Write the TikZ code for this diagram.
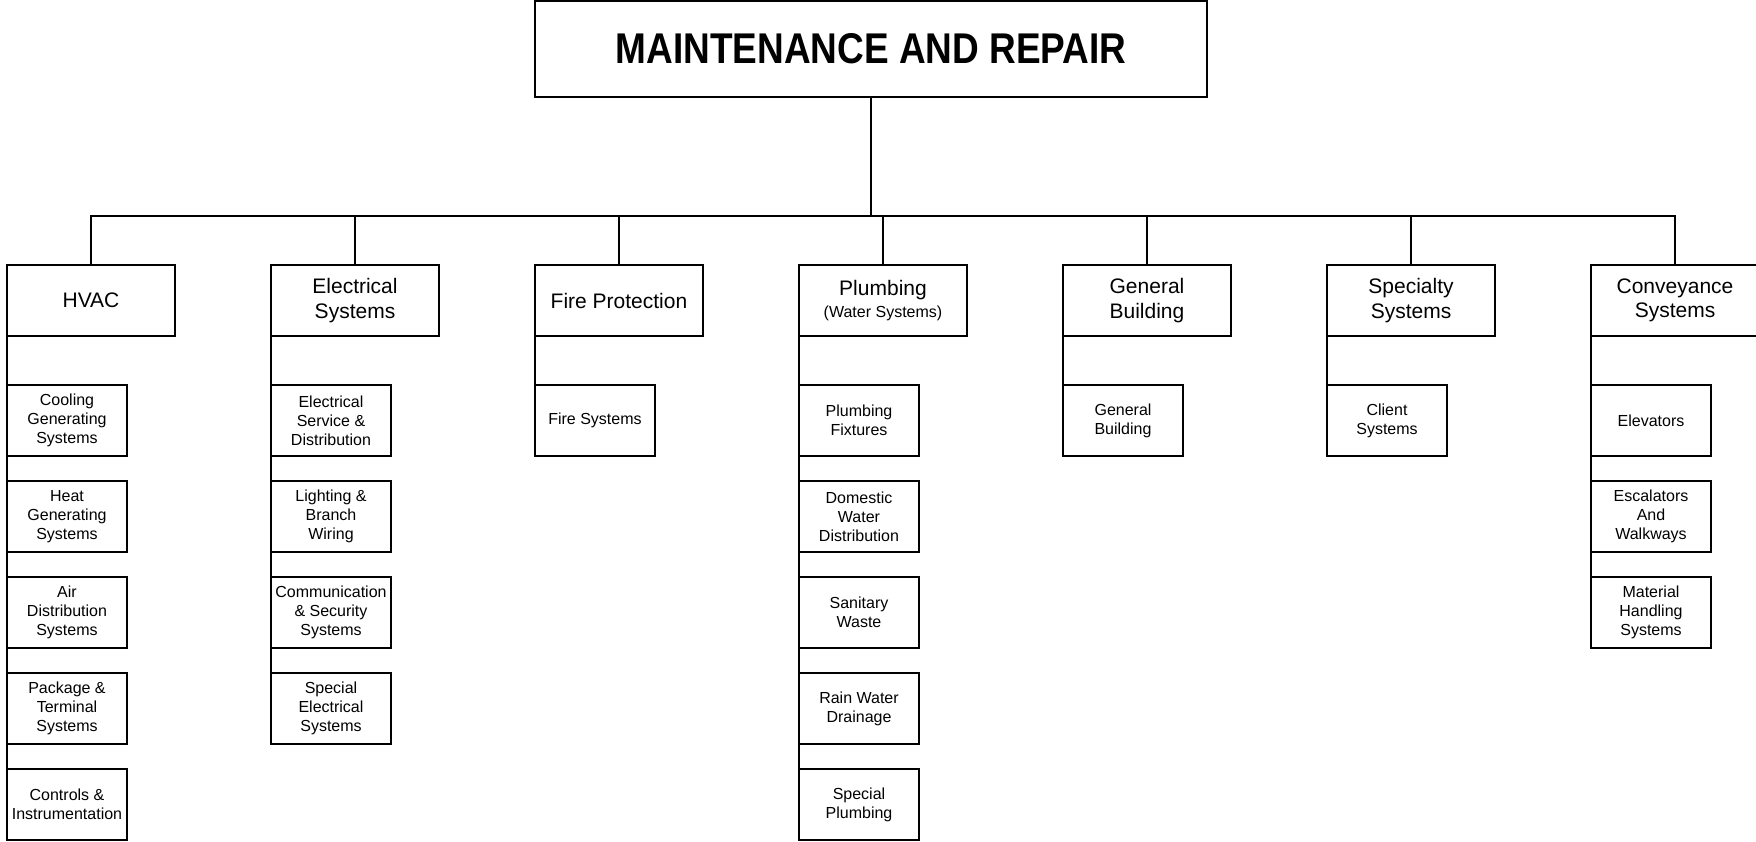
\documentclass[tikz,border=0pt]{standalone}
\usepackage{fontspec}
\setmainfont{Liberation Sans}
\usetikzlibrary{positioning}

\begin{document}
\begin{tikzpicture}[
		node distance=48pt,
		line width=1pt,
		title/.style={draw, outer sep=0pt, minimum width=336pt, minimum height=48pt, font=\fontsize{21.5}{24}\selectfont\bfseries},
		cat/.style={draw, outer sep=0pt, align=center, minimum width=84pt, minimum height=35.5pt, inner sep=1pt, font=\fontsize{10.5}{12.3}\selectfont},
		sub/.style={draw, outer sep=0pt, align=center, minimum width=60pt, minimum height=35.5pt, inner sep=1pt, font=\fontsize{8}{9.5}\selectfont}
	]
	\useasboundingbox (0,0) rectangle (878pt,-420.5pt);

	\node[title] (mr) at (435.5pt,-24.5pt) {\scalebox{0.86}[1]{MAINTENANCE AND REPAIR}};
	\coordinate (bus) at (0,-108pt);

	% categories
	\node[cat] (hvac) at (45.5pt,-150.25pt) {HVAC};
	\node[cat, right=of hvac] (elec) {Electrical\\Systems};
	\node[cat, right=of elec] (fire) {Fire Protection};
	\node[cat, right=of fire] (plumb) {Plumbing\\[-1pt]{\fontsize{8}{9.5}\selectfont(Water Systems)}};
	\node[cat, right=of plumb] (gen) {General\\Building};
	\node[cat, right=of gen] (spec) {Specialty\\Systems};
	\node[cat, right=of spec] (conv) {Conveyance\\Systems};

	% HVAC
	\node[sub, below=24.5pt of hvac.south west, anchor=north west] (hvac1) {Cooling\\Generating\\Systems};
	\node[sub, below=12.5pt of hvac1] (hvac2) {Heat\\Generating\\Systems};
	\node[sub, below=12.5pt of hvac2] (hvac3) {Air\\Distribution\\Systems};
	\node[sub, below=12.5pt of hvac3] (hvac4) {Package \&\\Terminal\\Systems};
	\node[sub, below=12.5pt of hvac4] (hvac5) {Controls \&\\Instrumentation};

	% Electrical
	\node[sub, below=24.5pt of elec.south west, anchor=north west] (elec1) {Electrical\\Service \&\\Distribution};
	\node[sub, below=12.5pt of elec1] (elec2) {Lighting \&\\Branch\\Wiring};
	\node[sub, below=12.5pt of elec2] (elec3) {Communication\\\& Security\\Systems};
	\node[sub, below=12.5pt of elec3] (elec4) {Special\\Electrical\\Systems};

	% Fire
	\node[sub, below=24.5pt of fire.south west, anchor=north west] (fire1) {Fire Systems};

	% Plumbing
	\node[sub, below=24.5pt of plumb.south west, anchor=north west] (plumb1) {Plumbing\\Fixtures};
	\node[sub, below=12.5pt of plumb1] (plumb2) {Domestic\\Water\\Distribution};
	\node[sub, below=12.5pt of plumb2] (plumb3) {Sanitary\\Waste};
	\node[sub, below=12.5pt of plumb3] (plumb4) {Rain Water\\Drainage};
	\node[sub, below=12.5pt of plumb4] (plumb5) {Special\\Plumbing};

	% General, Specialty
	\node[sub, below=24.5pt of gen.south west, anchor=north west] (gen1) {General\\Building};
	\node[sub, below=24.5pt of spec.south west, anchor=north west] (spec1) {Client\\Systems};

	% Conveyance
	\node[sub, below=24.5pt of conv.south west, anchor=north west] (conv1) {Elevators};
	\node[sub, below=12.5pt of conv1] (conv2) {Escalators\\And\\Walkways};
	\node[sub, below=12.5pt of conv2] (conv3) {Material\\Handling\\Systems};

	% tree lines
	\draw (mr.south) -- (mr.south |- bus);
	\draw (hvac.north) |- (conv.north |- bus) -- (conv.north);
	\foreach \c in {elec,fire,plumb,gen,spec}
		\draw (\c.north) -- (\c.north |- bus);

	\draw (hvac.south west) -- (hvac5.north west);
	\draw (elec.south west) -- (elec4.north west);
	\draw (fire.south west) -- (fire1.north west);
	\draw (plumb.south west) -- (plumb5.north west);
	\draw (gen.south west) -- (gen1.north west);
	\draw (spec.south west) -- (spec1.north west);
	\draw (conv.south west) -- (conv3.north west);
\end{tikzpicture}
\end{document}
